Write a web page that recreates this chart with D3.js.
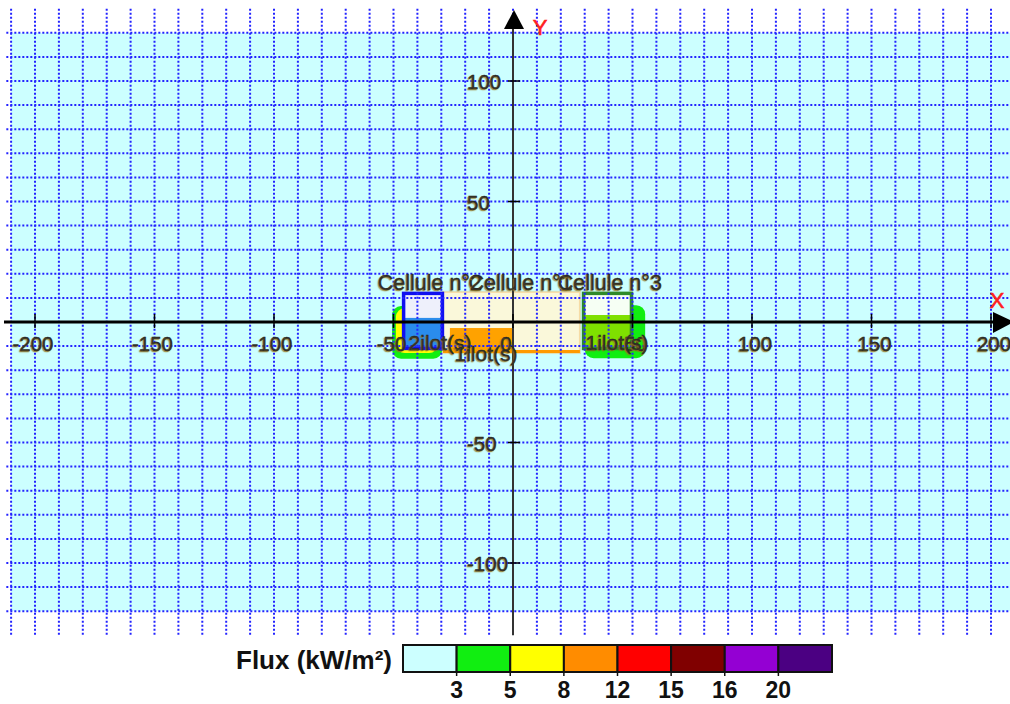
<!DOCTYPE html>
<html>
<head>
<meta charset="utf-8">
<script src="https://cdn.jsdelivr.net/npm/d3@7"></script>
<style>
    body { margin: 0; background: #fff; }
    svg text { font-family: "Liberation Sans", Arial, sans-serif; }
    .lbl { fill: #262626; stroke: #262626; stroke-width: 0.35; text-shadow: -1px 1px 1px rgba(150,120,30,0.8); }
</style>
</head>
<body>
<div id="chart"></div>
<script>
// axis ticks (m)
const xTicks = [-200, -150, -100, -50, 0, 50, 100, 150, 200];
const yTicks = [-100, -50, 50, 100];

// cells: extent in metres, lower part = internal fill
const cells = [
    { name: 'Cellule n°1', x0: -29.3, x1: 28.0, y0: -12.9, y1: 12.5, lx: 3.2 },
    { name: 'Cellule n°2', x0: -46.4, x1: -28.9, y0: -11.6, y1: 12.5, lx: -34.8 },
    { name: 'Cellule n°3', x0: 28.9, x1: 50.2, y0: -11.6, y1: 12.5, lx: 40.5 }
];
const cellInner = [
    { cell: 'Cellule n°1', x0: -26.4, x1: -0.4, y0: -12.9, y1: -2.5 },
    { cell: 'Cellule n°2', x0: -46.4, x1: -28.9, y0: -11.6, y1: 1.7 },
    { cell: 'Cellule n°3', x0: 28.9, x1: 50.2, y0: -11.6, y1: 2.9 }
];

// flux zones around the cells (kW/m²)
const fluxZones = [
    { flux: 3, x0: -50.6, x1: -29.6, y0: -15.2, y1: 6.6 },
    { flux: 5, x0: -49.0, x1: -31.4, y0: -12.9, y1: 5.8 },
    { flux: 3, x0: 30.0, x1: 55.3, y0: -15.0, y1: 7.0 }
];

const ilotLabels = [
    { text: '2ilot(s)', x: -30.5, y: -11.6 },
    { text: '1ilot(s)', x: -11.3, y: -16.2 },
    { text: '1ilot(s)', x: 43.5, y: -11.6 }
];

// legend
const fluxThresholds = [3, 5, 8, 12, 15, 16, 20];
const fluxColors = ['#ccffff', '#11ee11', '#ffff00', '#ff8c00', '#ff0000', '#800000', '#9400d3', '#4b0082'];

const cellFill = { 'Cellule n°1': '#faf8da', 'Cellule n°2': '#eef0fb', 'Cellule n°3': '#f6fff4' };
const cellStroke = { 'Cellule n°1': '#f7a840', 'Cellule n°2': '#1010f0', 'Cellule n°3': '#2f8a2a' };
const innerFill = { 'Cellule n°1': '#ffa200', 'Cellule n°2': '#2a8cec', 'Cellule n°3': '#7fe000' };

const W = 1010, H = 704;
const svg = d3.select('#chart').append('svg').attr('width', W).attr('height', H);

const x = d3.scaleLinear().domain([-200, 200]).range([35, 991]);
const y = d3.scaleLinear().domain([-100, 100]).range([563, 81]);
const fluxColor = d3.scaleThreshold().domain(fluxThresholds).range(fluxColors);

// background
svg.append('rect')
    .attr('x', x(-210)).attr('y', y(120))
    .attr('width', W - x(-210)).attr('height', y(-120) - y(120))
    .attr('fill', '#ccffff');

// flux zones
svg.append('g').selectAll('rect').data(fluxZones).join('rect')
    .attr('x', d => x(d.x0)).attr('y', d => y(d.y1))
    .attr('width', d => x(d.x1) - x(d.x0)).attr('height', d => y(d.y0) - y(d.y1))
    .attr('rx', 9).attr('ry', 9)
    .attr('fill', d => fluxColor(d.flux));

// cells
const cellG = svg.append('g');
cellG.selectAll('rect.cell').data(cells).join('rect')
    .attr('class', 'cell')
    .attr('x', d => x(d.x0)).attr('y', d => y(d.y1))
    .attr('width', d => x(d.x1) - x(d.x0)).attr('height', d => y(d.y0) - y(d.y1))
    .attr('fill', d => cellFill[d.name]);
cellG.selectAll('rect.inner').data(cellInner).join('rect')
    .attr('class', 'inner')
    .attr('x', d => x(d.x0)).attr('y', d => y(d.y1))
    .attr('width', d => x(d.x1) - x(d.x0)).attr('height', d => y(d.y0) - y(d.y1))
    .attr('fill', d => innerFill[d.cell]);
// orange outline of cell 1, bottom edge stronger
const c1 = cells[0];
cellG.append('rect')
    .attr('x', x(c1.x0)).attr('y', y(c1.y1))
    .attr('width', x(c1.x1) - x(c1.x0)).attr('height', y(c1.y0) - y(c1.y1))
    .attr('fill', 'none').attr('stroke', cellStroke[c1.name]).attr('stroke-opacity', 0.35).attr('stroke-width', 2);
cellG.append('line')
    .attr('x1', x(c1.x0)).attr('x2', x(c1.x1)).attr('y1', y(c1.y0) - 1.5).attr('y2', y(c1.y0) - 1.5)
    .attr('stroke', '#ff9a00').attr('stroke-width', 3);
cellG.selectAll('rect.border').data(cells.slice(1)).join('rect')
    .attr('class', 'border')
    .attr('x', d => x(d.x0) + 1.5).attr('y', d => y(d.y1) + 1.5)
    .attr('width', d => x(d.x1) - x(d.x0) - 3).attr('height', d => y(d.y0) - y(d.y1) - 3)
    .attr('fill', 'none').attr('stroke', d => cellStroke[d.name]).attr('stroke-width', 3.5);

// grid
const grid = svg.append('g')
    .attr('stroke', '#2323ff').attr('stroke-width', 2).attr('stroke-dasharray', '2,2');
grid.selectAll('line.v').data(d3.range(-210, 211, 10)).join('line')
    .attr('class', 'v')
    .attr('x1', d => x(d)).attr('x2', d => x(d))
    .attr('y1', y(130)).attr('y2', y(-130));
grid.selectAll('line.h').data(d3.range(-120, 121, 10)).join('line')
    .attr('class', 'h')
    .attr('x1', x(-212)).attr('x2', W)
    .attr('y1', d => y(d)).attr('y2', d => y(d));

// axes
const axes = svg.append('g');
axes.append('line')
    .attr('x1', 4).attr('x2', 996).attr('y1', y(0)).attr('y2', y(0))
    .attr('stroke', '#000').attr('stroke-width', 3);
axes.append('path')
    .attr('d', `M993,${y(0) - 10}L1014,${y(0)}L993,${y(0) + 11}Z`)
    .attr('fill', '#000');
axes.append('line')
    .attr('x1', x(0)).attr('x2', x(0)).attr('y1', 26).attr('y2', y(-130))
    .attr('stroke', '#333').attr('stroke-width', 2);
axes.append('path')
    .attr('d', `M${x(0) + 1},10L${x(0) + 11},29L${x(0) - 9},29Z`)
    .attr('fill', '#000');

axes.selectAll('line.xt').data(xTicks).join('line')
    .attr('class', 'xt')
    .attr('x1', d => x(d)).attr('x2', d => x(d))
    .attr('y1', y(0) - 8).attr('y2', y(0) + 6)
    .attr('stroke', '#000').attr('stroke-width', 1.5);
axes.selectAll('line.yt').data(yTicks).join('line')
    .attr('class', 'yt')
    .attr('x1', x(0) - 5).attr('x2', x(0) + 7)
    .attr('y1', d => y(d)).attr('y2', d => y(d))
    .attr('stroke', '#000').attr('stroke-width', 1.5);

axes.selectAll('text.xl').data(xTicks).join('text')
    .attr('class', 'xl lbl')
    .attr('x', d => x(d) + (d < 0 ? -2 : d === 0 ? -7 : 3))
    .attr('y', y(0) + 29)
    .attr('text-anchor', 'middle')
    .attr('font-size', 20.5)
    .text(d => d);
axes.selectAll('text.yl').data(yTicks).join('text')
    .attr('class', 'yl lbl')
    .attr('x', x(0) - 46)
    .attr('y', d => y(d) + 8)
    .attr('font-size', 20.5)
    .text(d => d);

axes.append('text')
    .attr('x', 997).attr('y', 308).attr('text-anchor', 'middle')
    .attr('font-size', 22).attr('fill', '#ff2020')
    .attr('stroke', '#ff2020').attr('stroke-width', 0.6).text('X');
axes.append('text')
    .attr('x', 540).attr('y', 35).attr('text-anchor', 'middle')
    .attr('font-size', 22).attr('fill', '#ff2020')
    .attr('stroke', '#ff2020').attr('stroke-width', 0.6).text('Y');

// cell + ilot labels
svg.append('g').selectAll('text').data(cells).join('text')
    .attr('class', 'lbl')
    .attr('x', d => x(d.lx)).attr('y', y(13.3))
    .attr('text-anchor', 'middle').attr('font-size', 21.5)
    .text(d => d.name);
svg.append('g').selectAll('text').data(ilotLabels).join('text')
    .attr('class', 'lbl')
    .attr('x', d => x(d.x)).attr('y', d => y(d.y))
    .attr('text-anchor', 'middle').attr('font-size', 21)
    .text(d => d.text);

// legend
const lx = d3.scaleBand().domain(d3.range(fluxColors.length)).range([403, 832]);
const leg = svg.append('g');
leg.append('text')
    .attr('x', 392).attr('y', 669).attr('text-anchor', 'end')
    .attr('font-size', 26).attr('font-weight', 'bold').attr('fill', '#111')
    .text('Flux (kW/m²)');
leg.selectAll('rect').data(fluxColors).join('rect')
    .attr('x', (d, i) => lx(i)).attr('y', 645)
    .attr('width', lx.bandwidth()).attr('height', 27)
    .attr('fill', d => d).attr('stroke', '#111').attr('stroke-width', 2);
leg.selectAll('line').data(fluxThresholds).join('line')
    .attr('x1', (d, i) => lx(i + 1)).attr('x2', (d, i) => lx(i + 1))
    .attr('y1', 672).attr('y2', 676)
    .attr('stroke', '#111').attr('stroke-width', 1.5);
leg.selectAll('text.tk').data(fluxThresholds).join('text')
    .attr('class', 'tk')
    .attr('x', (d, i) => lx(i + 1)).attr('y', 698)
    .attr('text-anchor', 'middle')
    .attr('font-size', 23).attr('font-weight', 'bold').attr('fill', '#111')
    .text(d => d);
</script>
</body>
</html>
